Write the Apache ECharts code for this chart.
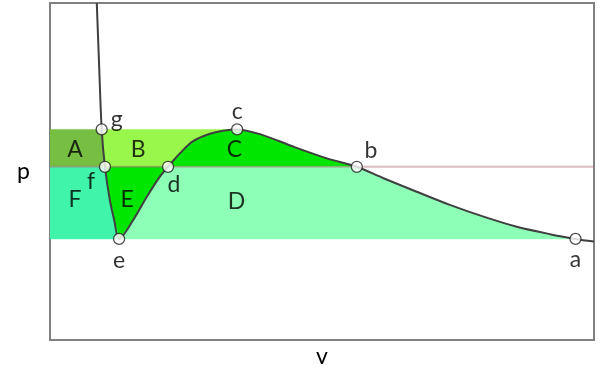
<!DOCTYPE html>
<html><head><meta charset="utf-8">
<script src="https://cdn.jsdelivr.net/npm/echarts@6/dist/echarts.min.js"></script>
<style>html,body{margin:0;padding:0;background:#fff}#c{width:600px;height:391px}</style>
</head><body><div id="c"></div>
<script>
// Isotherm curve (v, p in arbitrary units 0..100)
const curveV = [8.6, 9.0, 9.5, 10.1, 11.0, 11.8, 12.7, 15.3, 17.8, 20.2, 21.7, 23.9, 26.3, 29.4, 31.8, 34.4, 38.6, 44.7, 50.9, 56.4, 61.3, 67.4, 73.5, 79.7, 85.8, 91.9, 96.6, 100];
const curveP = [100, 82.8, 62.5, 51.4, 41.5, 35.6, 30.0, 35.6, 42.5, 48.5, 51.4, 55.4, 59.0, 61.2, 62.1, 62.5, 61.1, 57.4, 53.9, 51.4, 48.0, 44.0, 40.1, 36.6, 33.6, 31.4, 30.0, 29.2];
// pressure levels
const pHigh = 62.5, pMid = 51.4, pLow = 30.0;
// named points on the curve (index into curve arrays)
const pointNames = ['g', 'f', 'e', 'd', 'c', 'b', 'a'];
const pointIdx = [2, 3, 6, 10, 15, 19, 26];
// regions
const regionNames = ['A', 'B', 'C', 'D', 'E', 'F'];
const regionLabelV = [4.6, 16.2, 33.9, 34.3, 14.2, 4.6];
const regionLabelP = [56.6, 56.6, 56.6, 41.0, 41.8, 41.8];
const axisNames = ['v', 'p'];

// ---- styles ----
const regionColors = ['#76bf42', '#99f64b', '#00e600', '#8effb6', '#00e600', '#40f5aa'];
const pointLabelOffsets = {g: [15, -10], f: [-14, 15], e: [0, 22], d: [6, 18], c: [0, -18], b: [14, -16], a: [0, 21]};
const FONT = 'Lato, "Open Sans", sans-serif';
const TXT = {fontSize: 23, fontFamily: FONT, color: '#000'};

function cp(i) { return [curveV[i], curveP[i]]; }
function seg(a, b) { const r = []; if (a <= b) { for (let i = a; i <= b; i++) r.push(cp(i)); } else { for (let i = a; i >= b; i--) r.push(cp(i)); } return r; }
const I = {}; pointNames.forEach((n, k) => I[n] = pointIdx[k]);
const regionPolys = [
  [[0, pMid], [0, pHigh], ...seg(I.g, I.f)],                       // A
  [...seg(I.g, I.f), ...seg(I.d, I.c)],                             // B
  seg(I.d, I.b),                                                    // C
  [cp(I.d), ...seg(I.b, I.a), ...seg(I.e, I.d - 1)],                // D
  seg(I.f, I.d),                                                    // E
  [[0, pMid], ...seg(I.f, I.e), [0, pLow]]                          // F
];

const chart = echarts.init(document.getElementById('c'), null, {renderer: 'canvas'});
chart.setOption({
  animation: false,
  grid: {left: 50, right: 6, top: 3, bottom: 51, show: true, borderColor: '#808080', borderWidth: 2, backgroundColor: 'transparent'},
  xAxis: {type: 'value', min: 0, max: 100, name: axisNames[0], nameLocation: 'middle', nameGap: 5,
    nameTextStyle: TXT,
    axisLine: {show: false}, axisTick: {show: false}, axisLabel: {show: false}, splitLine: {show: false}},
  yAxis: {type: 'value', min: 0, max: 100, name: axisNames[1], nameLocation: 'middle', nameGap: 20, nameRotate: 0,
    nameTextStyle: TXT,
    axisLine: {show: false}, axisTick: {show: false}, axisLabel: {show: false}, splitLine: {show: false}},
  series: [
    {
      type: 'custom', z: 1, clip: true,
      data: regionNames.map((n, i) => [regionLabelV[i], regionLabelP[i]]),
      renderItem: function (params, api) {
        const pts = regionPolys[params.dataIndex].map(p => api.coord(p));
        return {type: 'polygon', shape: {points: pts}, style: {fill: regionColors[params.dataIndex], stroke: regionColors[params.dataIndex], lineWidth: 0.5}};
      }
    },
    {
      type: 'line', z: 2, silent: true, showSymbol: false,
      data: [[0, pMid], [100, pMid]],
      lineStyle: {color: 'rgba(175,105,118,0.45)', width: 2}
    },
    {
      type: 'line', z: 3, silent: true, showSymbol: false, smooth: 0.3, clip: true,
      data: curveV.map((v, i) => [v, curveP[i]]),
      lineStyle: {color: '#404040', width: 2}
    },
    {
      type: 'scatter', z: 4, symbolSize: 0,
      data: regionNames.map((n, i) => ({name: n, value: [regionLabelV[i], regionLabelP[i]]})),
      label: Object.assign({show: true, position: 'inside', formatter: '{b}'}, TXT)
    },
    {
      type: 'scatter', z: 5, symbol: 'circle', symbolSize: 11,
      itemStyle: {color: '#fff', borderColor: '#222', borderWidth: 1.3},
      data: pointNames.map((n, k) => ({
        name: n, value: cp(pointIdx[k]),
        label: Object.assign({show: true, position: 'inside', offset: pointLabelOffsets[n], formatter: '{b}'}, TXT)
      }))
    }
  ]
});
</script></body></html>
